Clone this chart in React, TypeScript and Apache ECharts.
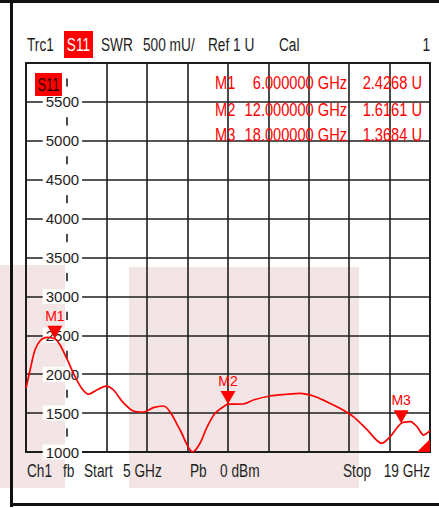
import React, { useEffect, useRef } from 'react';
import * as echarts from 'echarts';

// Sweep settings
const startGHz = 5;
const stopGHz = 19;
const divisions = 10;
const yMin = 1000;
const yMax = 6000;
const yStep = 500;

// Trace (frequency in GHz, SWR in display units)
const freqGHz = [
  5.0, 5.14, 5.31, 5.49, 5.72, 6.0, 6.18, 6.41, 6.7, 6.93, 7.16, 7.45, 7.77, 8.03,
  8.37, 8.72, 9.07, 9.41, 9.76, 9.99, 10.34, 10.78, 11.03, 11.26, 11.55, 11.84, 12.0,
  12.53, 12.88, 13.45, 14.03, 14.5, 14.96, 15.42, 15.88, 16.34, 16.81, 17.33, 17.62,
  18.0, 18.32, 18.55, 18.78, 19.0,
];
const swr = [
  1820, 2050, 2310, 2430, 2474, 2455, 2375, 2204, 1968, 1819, 1742, 1797, 1848, 1797,
  1634, 1527, 1514, 1570, 1591, 1518, 1283, 1000, 1112, 1310, 1497, 1582, 1616,
  1617, 1668, 1720, 1742, 1754, 1720, 1647, 1561, 1454, 1291, 1112, 1197,
  1368, 1390, 1325, 1218, 1274,
];

// Markers
const markerNames = ['M1', 'M2', 'M3'];
const markerFreqGHz = [6, 12, 18];
const markerSWR = [2455, 1616, 1368];
const markerReadout = ['2.4268 U', '1.6161 U', '1.3684 U'];

// Header / footer texts
const headerTexts = ['Trc1', 'S11', 'SWR', '500 mU/', 'Ref 1 U', 'Cal', '1'];
const footerTexts = ['Ch1', 'fb', 'Start', '5 GHz', 'Pb', '0 dBm', 'Stop', '19 GHz'];

const FONT = "'Liberation Sans', Arial, sans-serif";
const RED = '#ff0000';
const INK = '#1e1e1e';

const GRID_LEFT = 26;
const GRID_RIGHT = 9;
const CHART_W = 439;

export default function App() {
  const ref = useRef<HTMLDivElement>(null);

  useEffect(() => {
    if (!ref.current) return;
    const chart = echarts.init(ref.current, undefined, { renderer: 'svg' });

    const step = (stopGHz - startGHz) / divisions; // GHz per division
    const axisOrigin = startGHz + step; // the scale sits on the first division line
    const toX = (f: number) => Math.round((f - axisOrigin) * 10000) / 10000;
    const divPx = (CHART_W - GRID_LEFT - GRID_RIGHT) / divisions;

    const lineData = freqGHz.map((f, i) => [toX(f), swr[i]]);

    const splitColors: string[] = [];
    for (let i = 0; i <= divisions; i++) splitColors.push(i === 1 ? 'rgba(0,0,0,0)' : INK);

    const txt = (text: string, x: number, y: number, opts: any = {}) => ({
      type: 'text',
      x,
      y,
      scaleX: opts.scale || 0.72,
      z: 100,
      style: {
        text,
        fill: opts.fill || INK,
        font: `${opts.size || 19}px ${FONT}`,
        textAlign: opts.align || 'left',
        textVerticalAlign: 'middle',
      },
    });

    const rowY = [83, 110, 135];
    const graphic: any[] = [
      // faint pink background patches
      { type: 'rect', z: -10, shape: { x: 0, y: 265, width: 65, height: 223 }, style: { fill: '#f3e5e5' } },
      { type: 'rect', z: -10, shape: { x: 129, y: 267, width: 230, height: 221 }, style: { fill: '#f3e5e5' } },
      // outer frame
      { type: 'rect', z: 90, shape: { x: 0, y: 0, width: 439, height: 3 }, style: { fill: '#111' } },
      { type: 'rect', z: 90, shape: { x: 10, y: 0, width: 3, height: 507 }, style: { fill: '#111' } },
      { type: 'rect', z: 90, shape: { x: 10, y: 503, width: 429, height: 3 }, style: { fill: '#111' } },
      // header
      txt(headerTexts[0], 27, 45),
      { type: 'rect', z: 95, shape: { x: 64, y: 31, width: 29, height: 27 }, style: { fill: RED } },
      txt(headerTexts[1], 78.5, 45, { fill: '#fff', align: 'center' }),
      txt(headerTexts[2], 101, 45),
      txt(headerTexts[3], 143, 45),
      txt(headerTexts[4], 208, 45),
      txt(headerTexts[5], 279, 45),
      txt(headerTexts[6], 430, 45, { align: 'right' }),
      // trace label in the plot
      { type: 'rect', z: 95, shape: { x: 35, y: 73, width: 27, height: 23 }, style: { fill: RED } },
      txt('S11', 48.5, 85, { fill: '#300', align: 'center', size: 18 }),
      // footer
      txt(footerTexts[0], 27, 471),
      txt(footerTexts[1], 63, 471),
      txt(footerTexts[2], 84, 471),
      txt(footerTexts[3], 123, 471),
      txt(footerTexts[4], 190, 471),
      txt(footerTexts[5], 220, 471),
      txt(footerTexts[6], 343, 471),
      txt(footerTexts[7], 430, 471, { align: 'right' }),
    ];
    markerNames.forEach((n, i) => {
      const o = { fill: RED, size: 19, scale: 0.77 };
      graphic.push(txt(n, 215, rowY[i], o));
      graphic.push(txt(`${markerFreqGHz[i].toFixed(6)} GHz`, 347, rowY[i], { ...o, align: 'right' }));
      graphic.push(txt(markerReadout[i], 422, rowY[i], { ...o, align: 'right' }));
    });

    chart.setOption({
      animation: false,
      backgroundColor: '#fff',
      grid: {
        left: GRID_LEFT,
        right: GRID_RIGHT,
        top: 63,
        bottom: 56,
        show: true,
        borderColor: INK,
        borderWidth: 2,
        backgroundColor: 'rgba(0,0,0,0)',
        outerBoundsMode: 'none',
        containLabel: false,
      },
      xAxis: {
        type: 'value',
        min: toX(startGHz),
        max: toX(stopGHz),
        interval: step,
        axisLine: { show: false },
        axisTick: { show: false },
        axisLabel: { show: false },
        splitLine: { show: true, lineStyle: { color: splitColors, width: 1.6 } },
      },
      yAxis: {
        type: 'value',
        min: yMin,
        max: yMax,
        interval: yStep,
        position: 'left',
        offset: -divPx,
        axisLine: {
          show: true,
          onZero: false,
          lineStyle: { color: INK, width: 1.6, type: [7, 31.9], dashOffset: 22.9 },
        },
        axisTick: { show: false },
        axisLabel: {
          showMaxLabel: false,
          formatter: (v: number) => String(v),
          align: 'center',
          margin: 4,
          fontSize: 15,
          fontFamily: FONT,
          color: INK,
          backgroundColor: '#fff',
          padding: [0, 3],
        },
        splitLine: { show: true, lineStyle: { color: INK, width: 1.6 } },
      },
      graphic,
      series: [
        {
          type: 'line',
          data: lineData,
          smooth: 0.3,
          showSymbol: false,
          lineStyle: { color: RED, width: 1.7 },
          z: 5,
          markPoint: {
            silent: true,
            data: [
              ...markerNames.map((n, i) => ({
                name: n,
                coord: [toX(markerFreqGHz[i]), markerSWR[i]],
                symbol: 'path://M0,0 L10,0 L5,9 Z',
                symbolSize: [15, 13],
                symbolOffset: [0, '-50%'],
                itemStyle: { color: RED },
                label: {
                  show: true,
                  formatter: n,
                  position: 'top',
                  distance: 3,
                  color: RED,
                  fontSize: 14,
                  fontFamily: FONT,
                },
              })),
              {
                name: 'stop',
                coord: [toX(stopGHz), yMin],
                symbol: 'path://M1,0 L1,1 L0,1 Z',
                symbolSize: 13,
                symbolOffset: ['-50%', '-50%'],
                itemStyle: { color: RED },
                label: { show: false },
              },
            ],
          },
        },
      ],
    });

    return () => chart.dispose();
  }, []);

  return <div ref={ref} style={{ position: 'absolute', left: 0, top: 0, width: 439, height: 508 }} />;
}
